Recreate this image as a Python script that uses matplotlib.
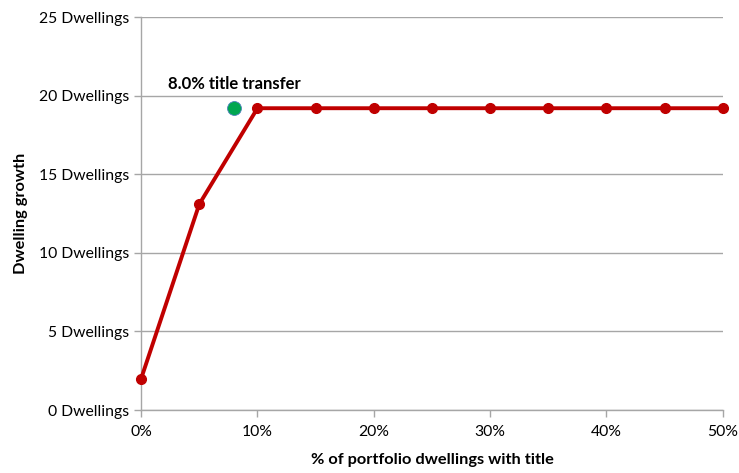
import matplotlib
matplotlib.use("Agg")
import matplotlib.pyplot as plt
from matplotlib.ticker import FuncFormatter

plt.rcParams['font.family'] = ['Lato', 'DejaVu Sans']

# Share of portfolio dwellings with title (%) and resulting dwelling growth
title_share = [0, 5, 10, 15, 20, 25, 30, 35, 40, 45, 50]
dwelling_growth = [2.0, 13.1, 19.2, 19.2, 19.2, 19.2, 19.2, 19.2, 19.2, 19.2, 19.2]

# Selected title transfer scenario
selected_share = [8.0]
selected_growth = [19.2]
selected_label = "8.0% title transfer"

y_ticks = [0, 5, 10, 15, 20, 25]
x_ticks = [0, 10, 20, 30, 40, 50]

fig = plt.figure(figsize=(7.39, 4.73), dpi=100)
ax = fig.add_axes([0.191, 0.133, 0.787, 0.831])

grid_col = "#A6A6A6"
ax.set_xlim(0, 50)
ax.set_ylim(0, 25)
ax.set_yticks(y_ticks)
ax.set_xticks(x_ticks)
ax.yaxis.set_major_formatter(FuncFormatter(lambda v, p: f"{v:.0f} Dwellings"))
ax.xaxis.set_major_formatter(FuncFormatter(lambda v, p: f"{v:.0f}%"))

ax.grid(axis='y', color=grid_col, linewidth=1)
ax.set_axisbelow(True)
for side in ("top", "right"):
    ax.spines[side].set_visible(False)
for side in ("left", "bottom"):
    ax.spines[side].set_color(grid_col)
    ax.spines[side].set_linewidth(1)
ax.tick_params(axis='both', colors=grid_col, labelcolor="black", labelsize=11.3, length=5, width=1)
ax.tick_params(axis='x', pad=6)

ax.plot(title_share, dwelling_growth, color="#C00000", linewidth=2.8,
        marker='o', markersize=7, markerfacecolor="#C00000",
        markeredgecolor="#C00000", zorder=3, clip_on=False)

ax.plot(selected_share, selected_growth, linestyle='none', marker='o',
        markersize=10, markerfacecolor="#00A650", markeredgecolor="#4F81BD",
        markeredgewidth=0.6, zorder=4)
ax.annotate(selected_label, (selected_share[0], selected_growth[0]),
            xytext=(0, 12), textcoords='offset points', ha='center', va='bottom',
            fontsize=12, fontweight='bold')

ax.set_xlabel("% of portfolio dwellings with title", fontsize=11.8, fontweight='bold', labelpad=10)
ax.set_ylabel("Dwelling growth", fontsize=11.8, fontweight='bold', labelpad=8)

fig.savefig("out.png", dpi=100)
